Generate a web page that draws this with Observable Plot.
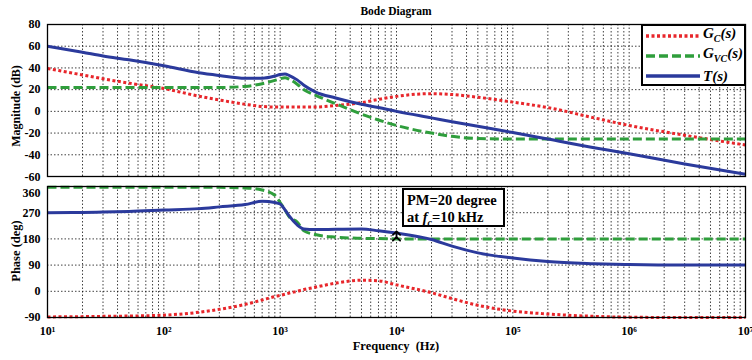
<!DOCTYPE html>
<html><head><meta charset="utf-8">
<script src="https://cdn.jsdelivr.net/npm/d3@7"></script>
<script src="https://cdn.jsdelivr.net/npm/@observablehq/plot@0.6"></script>
<style>
body{margin:0;background:#fff;}
#wrap{position:relative;width:752px;height:360px;font-family:"Liberation Serif","Times New Roman",serif;font-weight:bold;color:#000;overflow:hidden;}
#wrap > svg{position:absolute;left:0;overflow:visible;}
.abs{position:absolute;white-space:nowrap;}
.rot{transform:translate(-50%,-50%) rotate(-90deg);}
</style></head><body><div id="wrap"></div>
<script>
// ---- data ----
const seriesNames = ["Gc(s)", "Gvc(s)", "T(s)"];
const seriesColors = ["#e8262b", "#2f9e3c", "#2b3a9c"];
const freq = [10, 20, 30, 50, 100, 200, 300, 500, 700, 900, 1000, 1100, 1200, 1400, 1600, 2000, 3000, 5000, 7000, 10000, 20000, 30000, 50000, 1e5, 2e5, 5e5, 1e6, 3e6, 1e7];
const magGc  = [39.5, 33.5, 30, 26, 21, 14, 10.5, 6.5, 4.5, 4, 4, 4, 4, 4, 4, 4, 5.5, 8, 11, 13.8, 16.3, 15.5, 13, 8.5, 3.5, -6, -13, -22, -31];
const magGvc = [22, 22, 22, 22, 22, 22, 22, 23, 25.5, 28.5, 30, 31, 29.5, 25, 20, 15, 7, -2.5, -8, -13, -20, -23, -25, -25.5, -25.5, -25.5, -25.5, -25.5, -25.5];
const magT   = [60, 54.5, 51, 47.5, 42, 35.5, 33, 30.5, 30.5, 32.5, 34, 34.5, 33, 29, 24, 18, 12.3, 6.5, 3.5, 0, -6, -9.5, -13.8, -19.5, -25.5, -33.5, -39, -48.5, -58];
const phGc   = [-88, -87, -86, -85, -82, -72, -62, -45, -30, -18, -14, -10, -6, 0, 6, 14, 28, 38, 36, 22, -5, -25, -48, -68, -78, -86, -89, -90, -90];
const phGvc  = [357, 357, 357, 357, 357, 357, 357, 355, 348, 330, 305, 280, 255, 238, 208, 195, 186, 182, 181, 180, 180, 180, 180, 180, 180, 180, 180, 180, 180];
const phT    = [270, 271, 272, 274, 279, 284, 290, 298, 309, 305, 300, 280, 258, 228, 214, 212, 213, 214, 208, 200, 178, 155, 132, 114, 102, 95, 92, 90, 90];
const decadeTicks = [1e1, 1e2, 1e3, 1e4, 1e5, 1e6, 1e7];
const magTicks = [-60, -40, -20, 0, 20, 40, 60, 80];
const phaseTicks = [-90, 0, 90, 180, 270, 360];
const fc = 10000;   // crossover frequency
const pm = 20;      // phase margin (deg)

// ---- build tables ----
const sup = {"0":"⁰","1":"¹","2":"²","3":"³","4":"⁴","5":"⁵","6":"⁶","7":"⁷","8":"⁸","9":"⁹"};
const fmtDec = d => "10" + String(Math.round(Math.log10(d))).split("").map(c => sup[c]).join("");
const gridX = decadeTicks.flatMap(d => d >= 1e7 ? [] : [1,2,3,4,5,6,7,8,9].map(k => d * k)).concat([1e7]);
const mag = [magGc, magGvc, magT];
const ph = [phGc, phGvc, phT];
const mkRows = arrs => seriesNames.flatMap((s, i) => freq.map((f, j) => ({s, f, v: arrs[i][j]})));
const magData = mkRows(mag);
const phData = mkRows(ph);
const dashes = ["3,2.5", "9,4", null];

function lineMarks(data) {
  return seriesNames.map((s, i) => Plot.line(data.filter(d => d.s === s), {
    x: "f", y: "v", stroke: seriesColors[i], strokeWidth: 3, strokeLinecap: "butt", strokeLinejoin: "round",
    strokeDasharray: dashes[i] || undefined, curve: "monotone-x"
  }));
}
const gridStyle = {stroke: "#000", strokeOpacity: 0.75, strokeWidth: 1, strokeDasharray: "1.5,2"};
const style = {fontFamily: "'Liberation Serif','Times New Roman',serif", fontWeight: "bold", fontSize: "12px", background: "transparent", color: "#000", overflow: "visible"};

const topPlot = Plot.plot({
  width: 752, height: 180, marginTop: 24, marginBottom: 4, marginLeft: 47, marginRight: 7,
  style,
  x: {type: "log", domain: [10, 1e7], axis: null},
  y: {domain: [-60, 80], ticks: magTicks, tickSize: 0, tickPadding: 7, tickFormat: d => String(d), label: null},
  marks: [
    Plot.ruleX(gridX, gridStyle),
    Plot.ruleY(magTicks, gridStyle),
    ...lineMarks(magData),
    Plot.frame({stroke: "#000", strokeWidth: 1.3})
  ]
});
topPlot.style.top = "0px";

const pmMarker = [{f: fc, from: 180, to: 180 + pm}];
const botPlot = Plot.plot({
  width: 752, height: 180, marginTop: 6, marginBottom: 43, marginLeft: 47, marginRight: 7,
  style,
  x: {type: "log", domain: [10, 1e7], ticks: decadeTicks, tickFormat: fmtDec, tickSize: 0, tickPadding: 9, label: null},
  y: {domain: [-90, 360], ticks: phaseTicks, tickSize: 0, tickPadding: 7, tickFormat: d => String(d), label: null},
  marks: [
    Plot.ruleX(gridX, gridStyle),
    Plot.ruleY(phaseTicks, gridStyle),
    ...lineMarks(phData),
    Plot.link(pmMarker, {x1: "f", x2: "f", y1: "from", y2: "to", stroke: "#000", strokeWidth: 1.8, markerStart: "arrow", markerEnd: "arrow"}),
    Plot.frame({stroke: "#000", strokeWidth: 1.3})
  ]
});
botPlot.style.top = "180px";

// the two adjacent tick labels (-60 above, 360 below) sit very close, as in the reference: nudge apart slightly
d3.select(topPlot).selectAll("text").filter(function() { return this.textContent === "-60"; }).attr("dy", "0.05em");
d3.select(botPlot).selectAll("text").filter(function() { return this.textContent === "360"; }).attr("dy", "0.55em");

const wrap = document.getElementById("wrap");
wrap.appendChild(botPlot);
wrap.appendChild(topPlot);

function addDiv(html, css, cls) {
  const d = document.createElement("div");
  d.className = "abs " + (cls || "");
  d.innerHTML = html;
  Object.assign(d.style, css);
  wrap.appendChild(d);
  return d;
}
// title & axis labels
addDiv("Bode Diagram", {left: "47px", width: "698px", textAlign: "center", top: "5px", fontSize: "11.5px"});
addDiv("Frequency&nbsp; (Hz)", {left: "47px", width: "698px", textAlign: "center", top: "339px", fontSize: "12.5px"});
addDiv("Magnitude (dB)", {left: "16px", top: "106px", fontSize: "12px"}, "rot");
addDiv("Phase (deg)", {left: "16px", top: "251px", fontSize: "12.5px"}, "rot");

// legend
const labelsHtml = ["<i>G<sub style='font-size:10px'>C</sub>(s)</i>", "<i>G<sub style='font-size:10px'>VC</sub>(s)</i>", "<i>T</i>(<i>s</i>)"];
let leg = "";
seriesNames.forEach((s, i) => {
  leg += `<div style="position:absolute;left:3px;top:${i*20}px;height:20px;display:flex;align-items:center;">
    <svg width="54" height="8" style="display:block"><line x1="0" y1="4" x2="54" y2="4" stroke="${seriesColors[i]}" stroke-width="3.5" ${dashes[i] ? `stroke-dasharray="${dashes[i]}"` : ""}/></svg>
    <span style="margin-left:3px;font-size:15px;line-height:15px;font-style:italic">${labelsHtml[i]}</span></div>`;
});
addDiv(leg, {left: "641px", top: "24px", width: "101px", height: "58px", border: "2px solid #000", background: "#fff"});

// PM annotation
addDiv(`<div style="position:absolute;left:3px;top:2px;font-size:14.5px;line-height:17px">PM=20 degree<br>at <i>f</i><sub style="font-size:10px;font-style:italic">c</sub>=10&thinsp;kHz</div>`,
  {left: "402px", top: "188px", width: "99px", height: "35px", border: "2px solid #000", background: "#fff"});
</script>
</body></html>
